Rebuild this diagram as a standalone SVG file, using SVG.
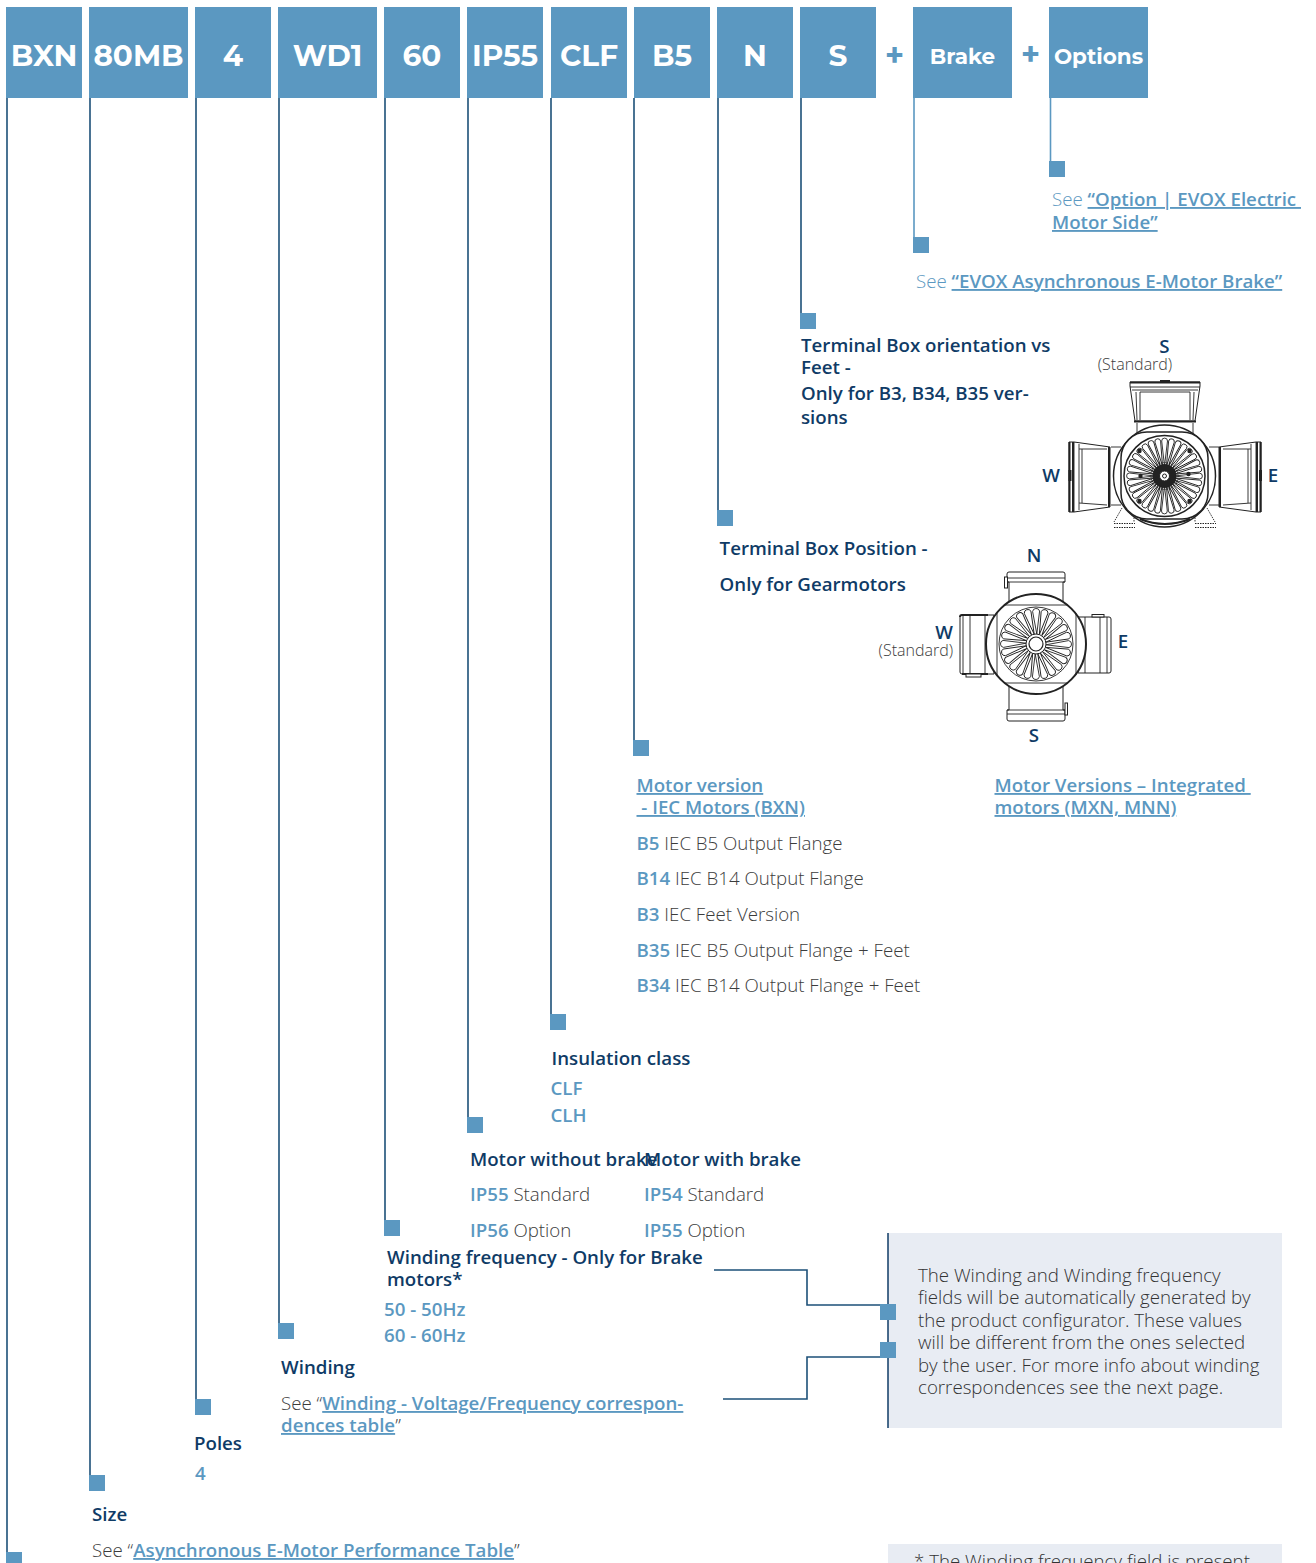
<svg xmlns="http://www.w3.org/2000/svg" xmlns:xlink="http://www.w3.org/1999/xlink" width="1316" height="1563" viewBox="0 0 1316 1563">
<style>
text{font-family:"Open Sans","Liberation Sans",sans-serif;font-size:18.7px}
.box{fill:#5b98c1}
.bt{font-family:"Montserrat","Inter","Liberation Sans",sans-serif;font-weight:700;fill:#fff;text-anchor:middle;font-size:29.500px}
.bs{font-size:21.500px}
.plus{font-family:"Inter","Liberation Sans",sans-serif;font-weight:800;fill:#5b98c1;font-size:30px;text-anchor:middle}
.sq{fill:#5b98c1}
.h{font-weight:600;fill:#0f3b66}
.o{font-weight:600;fill:#5b98c1}
.g{font-weight:300;fill:#3c3c3c}
.lg{font-weight:300;fill:#5b98c1}
.l{font-weight:600;fill:#5b98c1;text-decoration:underline}
.s{font-weight:300;fill:#3c3c3c;font-size:16px}
.n{font-weight:300;fill:#333;font-size:18.700px}
.c{fill:none;stroke:#1d5078;stroke-width:1.6}
.c2{fill:none;stroke:#5b98c1;stroke-width:1.6}
.m{fill:#fff;stroke:#222;stroke-width:1}
.mt{fill:none;stroke:#222;stroke-width:2}
.f{fill:none;stroke:#222;stroke-width:.9}
</style>
<defs>
<path id="p1" class="f" d="M.8-10L-3.400-32.500A3.600 3.600 0 0 1 3.600-33L.8-10"/>
<path id="p2" class="f" stroke-width="1.100" d="M0-10L-2.800-35A2.900 2.900 0 0 1 3-35L0-10"/>
</defs>
<g id="connectors">
<path class="c" d="M7 98V1553M90 98V1476M196 98V1400M279 98V1324M385 98V1221M468 98V1118M551 98V1015M634 98V741M718 98V511M801 98V314"/>
<path class="c2" d="M914 98V238M1050.500 98V162"/>
<path class="c" d="M714 1270H807V1305H881M723 1399H807V1357H881"/>
</g>
<g id="node-bxn"><rect class="box" x="6" y="7" width="76" height="91"/><text class="bt" x="44" y="65.500">BXN</text><rect class="sq" x="6" y="1552" width="16" height="16"/></g>
<g id="node-80mb"><rect class="box" x="89" y="7" width="99" height="91"/><text class="bt" x="138.500" y="65.500">80MB</text><rect class="sq" x="89" y="1475" width="16" height="16"/><text class="h" x="92" y="1521">Size</text><text class="g" x="92" y="1557">See “<tspan class="l">Asynchronous E-Motor Performance Table</tspan>”</text></g>
<g id="node-4"><rect class="box" x="195" y="7" width="76" height="91"/><text class="bt" x="233" y="65.500">4</text><rect class="sq" x="195" y="1399" width="16" height="16"/><text class="h" x="194" y="1450">Poles</text><text class="o" x="195" y="1480">4</text></g>
<g id="node-wd1"><rect class="box" x="278" y="7" width="99" height="91"/><text class="bt" x="327.500" y="65.500">WD1</text><rect class="sq" x="278" y="1323" width="16" height="16"/><text class="h" x="281" y="1374">Winding</text><text class="g" x="281" y="1410">See “<tspan class="l">Winding - Voltage/Frequency correspon-</tspan></text><text class="g" x="281" y="1432"><tspan class="l">dences table</tspan>”</text></g>
<g id="node-60"><rect class="box" x="384" y="7" width="76" height="91"/><text class="bt" x="422" y="65.500">60</text><rect class="sq" x="384" y="1220" width="16" height="16"/><text class="h" x="387" y="1264">Winding frequency - Only for Brake</text><text class="h" x="387" y="1286">motors*</text><text class="o" x="384" y="1316">50 - 50Hz</text><text class="o" x="384" y="1342">60 - 60Hz</text></g>
<g id="node-ip55"><rect class="box" x="467" y="7" width="76" height="91"/><text class="bt" x="505" y="65.500">IP55</text><rect class="sq" x="467" y="1117" width="16" height="16"/><text class="h" x="470" y="1166">Motor without brake</text><text class="h" x="644" y="1166">Motor with brake</text><text class="g" x="470" y="1201"><tspan class="o">IP55</tspan> Standard</text><text class="g" x="470" y="1237"><tspan class="o">IP56</tspan> Option</text><text class="g" x="644" y="1201"><tspan class="o">IP54</tspan> Standard</text><text class="g" x="644" y="1237"><tspan class="o">IP55</tspan> Option</text></g>
<g id="node-clf"><rect class="box" x="551" y="7" width="76" height="91"/><text class="bt" x="589" y="65.500">CLF</text><rect class="sq" x="550" y="1014" width="16" height="16"/><text class="h" x="551.500" y="1065">Insulation class</text><text class="o" x="550.500" y="1095">CLF</text><text class="o" x="550.500" y="1122">CLH</text></g>
<g id="node-b5"><rect class="box" x="634" y="7" width="76" height="91"/><text class="bt" x="672" y="65.500">B5</text><rect class="sq" x="633" y="740" width="16" height="16"/>
<text class="l" x="636.500" y="792">Motor version</text><text class="l" x="636.500" y="814">&#160;- IEC Motors (BXN)</text>
<text class="l" x="994.500" y="792">Motor Versions – Integrated&#160;</text><text class="l" x="994.500" y="814">motors (MXN, MNN)</text>
<text class="g" x="636.500" y="850"><tspan class="o">B5</tspan> IEC B5 Output Flange</text>
<text class="g" x="636.500" y="885"><tspan class="o">B14</tspan> IEC B14 Output Flange</text>
<text class="g" x="636.500" y="921"><tspan class="o">B3</tspan> IEC Feet Version</text>
<text class="g" x="636.500" y="957"><tspan class="o">B35</tspan> IEC B5 Output Flange + Feet</text>
<text class="g" x="636.500" y="992"><tspan class="o">B34</tspan> IEC B14 Output Flange + Feet</text></g>
<g id="node-n"><rect class="box" x="717" y="7" width="76" height="91"/><text class="bt" x="755" y="65.500">N</text><rect class="sq" x="717" y="510" width="16" height="16"/><text class="h" x="719.600" y="555">Terminal Box Position -</text><text class="h" x="719.600" y="591">Only for Gearmotors</text>
<text class="h" x="1034" y="562" text-anchor="middle">N</text><text class="h" x="944" y="639" text-anchor="middle">W</text><text class="s" x="953" y="656" text-anchor="end">(Standard)</text><text class="h" x="1123" y="648" text-anchor="middle">E</text><text class="h" x="1034" y="742" text-anchor="middle">S</text>
<g id="motor-n">
<path class="m" d="M1007 574q0-2 2-2h54q2 0 2 2v8h-2v20h-54v-20h-2z"/><path class="f" d="M1007 578h58M1007 582h58"/><rect x="1004.500" y="577" width="3" height="11" class="m"/>
<path class="m" d="M1009 686h54v24h2v9q0 2-2 2h-54q-2 0-2-2v-9h2z"/><path class="f" d="M1007 710h58M1007 714h58"/><rect x="1065" y="703" width="2.500" height="12" class="m"/>
<path class="m" d="M994 615h-32q-2 0-2 2v55q0 2 2 2h32z"/><path class="f" d="M963 615v59M970 615v59M985 615v59"/><path d="M960 617q0-2 2-2h26M962 674h26" class="mt" stroke-width="1.500"/><rect x="966" y="674" width="15" height="3" class="m"/>
<path class="m" d="M1078 617h31q2 0 2 2v52q0 2-2 2h-31z"/><path class="f" d="M1085 617v56M1100 617v56M1107 617v56"/><rect x="1092" y="614.500" width="12" height="2.500" class="m"/>
<circle cx="1036" cy="644" r="50" fill="#fff" stroke="#222" stroke-width="2"/>
<path class="f" d="M997 613V675M1076 613V675M1004 605H1068M1004 683H1068"/>
<circle cx="1036" cy="644" r="37" class="f"/>
<g transform="translate(1036 644)">
<use xlink:href="#p1"/><use xlink:href="#p1" transform="rotate(15)"/><use xlink:href="#p1" transform="rotate(30)"/><use xlink:href="#p1" transform="rotate(45)"/><use xlink:href="#p1" transform="rotate(60)"/><use xlink:href="#p1" transform="rotate(75)"/><use xlink:href="#p1" transform="rotate(90)"/><use xlink:href="#p1" transform="rotate(105)"/><use xlink:href="#p1" transform="rotate(120)"/><use xlink:href="#p1" transform="rotate(135)"/><use xlink:href="#p1" transform="rotate(150)"/><use xlink:href="#p1" transform="rotate(165)"/><use xlink:href="#p1" transform="rotate(180)"/><use xlink:href="#p1" transform="rotate(195)"/><use xlink:href="#p1" transform="rotate(210)"/><use xlink:href="#p1" transform="rotate(225)"/><use xlink:href="#p1" transform="rotate(240)"/><use xlink:href="#p1" transform="rotate(255)"/><use xlink:href="#p1" transform="rotate(270)"/><use xlink:href="#p1" transform="rotate(285)"/><use xlink:href="#p1" transform="rotate(300)"/><use xlink:href="#p1" transform="rotate(315)"/><use xlink:href="#p1" transform="rotate(330)"/><use xlink:href="#p1" transform="rotate(345)"/>
</g>
<circle cx="1036" cy="644" r="10" fill="#fff" stroke="#222" stroke-width="1"/><circle cx="1036" cy="644" r="7" fill="#fff" stroke="#222" stroke-width="1.200"/>
</g></g>
<g id="node-s"><rect class="box" x="800" y="7" width="76" height="91"/><text class="bt" x="838" y="65.500">S</text><rect class="sq" x="800" y="313" width="16" height="16"/>
<text class="h" x="801" y="352">Terminal Box orientation vs</text><text class="h" x="801" y="374">Feet -</text><text class="h" x="801" y="400">Only for B3, B34, B35 ver-</text><text class="h" x="801" y="424">sions</text>
<text class="h" x="1164.500" y="353" text-anchor="middle">S</text><text class="s" x="1135" y="370" text-anchor="middle">(Standard)</text><text class="h" x="1051" y="482" text-anchor="middle">W</text><text class="h" x="1273" y="482" text-anchor="middle">E</text>
<g id="motor-s">
<path class="m" d="M1130 382h70v4l-5 35h-60l-5-35z"/><path class="f" d="M1130 387h70M1132 390h66M1136 392l1 28M1140 392v28M1194 392l-1 28M1190 392v28M1140 392h50M1137 423v10M1193 423v10"/><path class="mt" d="M1134 421.500h62M1130 382.500h70M1160 381h10"/>
<path class="m" d="M1110 447l-36-5h-5v70h5l36-5z"/><path class="f" d="M1074 442v70M1079 444v66M1079 449l28 0M1079 503l28 2M1082 449v54M1111 447h10M1111 505h10"/><path class="mt" d="M1069.500 442v70M1073 442v70M1109 447v60"/><rect x="1068.500" y="470" width="3" height="11" fill="#222"/>
<path class="m" d="M1219 447l37-5h5v70h-5l-37-5z"/><path class="f" d="M1256 442v70M1251 444v66M1251 449l-28 0M1251 503l-28 2M1248 449v54M1219 447h-10M1219 505h-10"/><path class="mt" d="M1260.500 442v70M1257 442v70M1220 447v60"/><rect x="1259" y="470" width="3" height="11" fill="#222"/>
<circle cx="1164.500" cy="476" r="51" fill="#fff" stroke="#222" stroke-width="1.500"/>
<rect x="1121" y="432" width="87" height="87" rx="26" fill="#fff" stroke="#222" stroke-width="1.500"/>
<circle cx="1164.500" cy="476" r="40.500" fill="#fff" stroke="#222" stroke-width="1.500"/>
<g transform="translate(1164.500 476)">
<use xlink:href="#p2"/><use xlink:href="#p2" transform="rotate(11.250)"/><use xlink:href="#p2" transform="rotate(22.500)"/><use xlink:href="#p2" transform="rotate(33.750)"/><use xlink:href="#p2" transform="rotate(45)"/><use xlink:href="#p2" transform="rotate(56.250)"/><use xlink:href="#p2" transform="rotate(67.500)"/><use xlink:href="#p2" transform="rotate(78.750)"/><use xlink:href="#p2" transform="rotate(90)"/><use xlink:href="#p2" transform="rotate(101.250)"/><use xlink:href="#p2" transform="rotate(112.500)"/><use xlink:href="#p2" transform="rotate(123.750)"/><use xlink:href="#p2" transform="rotate(135)"/><use xlink:href="#p2" transform="rotate(146.250)"/><use xlink:href="#p2" transform="rotate(157.500)"/><use xlink:href="#p2" transform="rotate(168.750)"/><use xlink:href="#p2" transform="rotate(180)"/><use xlink:href="#p2" transform="rotate(191.250)"/><use xlink:href="#p2" transform="rotate(202.500)"/><use xlink:href="#p2" transform="rotate(213.750)"/><use xlink:href="#p2" transform="rotate(225)"/><use xlink:href="#p2" transform="rotate(236.250)"/><use xlink:href="#p2" transform="rotate(247.500)"/><use xlink:href="#p2" transform="rotate(258.750)"/><use xlink:href="#p2" transform="rotate(270)"/><use xlink:href="#p2" transform="rotate(281.250)"/><use xlink:href="#p2" transform="rotate(292.500)"/><use xlink:href="#p2" transform="rotate(303.750)"/><use xlink:href="#p2" transform="rotate(315)"/><use xlink:href="#p2" transform="rotate(326.250)"/><use xlink:href="#p2" transform="rotate(337.500)"/><use xlink:href="#p2" transform="rotate(348.750)"/>
<circle cx="-25" cy="-25" r="2.200" fill="#222"/><circle cx="25" cy="-25" r="2.200" fill="#222"/><circle cx="-25" cy="25" r="2.200" fill="#222"/><circle cx="25" cy="25" r="2.200" fill="#222"/><circle cx="-24" cy="0" r="2.200" fill="#222"/><circle cx="24" cy="-2" r="2.200" fill="#222"/>
</g>
<circle cx="1164.500" cy="476" r="12" fill="#222"/><circle cx="1164.500" cy="476" r="13.500" fill="none" stroke="#222" stroke-dasharray="1 1"/><circle cx="1164.500" cy="476" r="5" fill="#fff" stroke="#222"/><circle cx="1164.500" cy="476" r="2" fill="#fff" stroke="#222"/>
<path d="M1122 508l-8 14M1207 508l8 14M1134 515v7M1195 515v7" class="f" stroke-dasharray="1.500 1"/>
<path d="M1114 527.500h21M1114 523.500h21M1195 527.500h21M1195 523.500h21" stroke="#222" fill="none" stroke-dasharray="1.500 1"/>
<path d="M1140 519q25 10 50 0" class="mt"/>
</g></g>
<g id="plus-1"><text class="plus" x="894.500" y="63.500">+</text></g>
<g id="node-brake"><rect class="box" x="913" y="7" width="99" height="91"/><text class="bt bs" x="962.500" y="64">Brake</text><rect class="sq" x="913" y="237" width="16" height="16"/><text class="lg" x="916" y="288">See <tspan class="l">“EVOX Asynchronous E-Motor Brake”</tspan></text></g>
<g id="plus-2"><text class="plus" x="1030.500" y="63">+</text></g>
<g id="node-options"><rect class="box" x="1049" y="7" width="99" height="91"/><text class="bt bs" x="1098.500" y="64">Options</text><rect class="sq" x="1049" y="161" width="16" height="16"/><text class="lg" x="1052" y="206">See <tspan class="l">“Option | EVOX Electric&#160;</tspan></text><text class="l" x="1052" y="229">Motor Side”</text></g>
<g id="note-1"><rect x="888" y="1233" width="394" height="195" fill="#e8ecf3"/><path d="M888 1233V1428" stroke="#0f3b66" stroke-width="1.500"/>
<rect class="sq" x="880" y="1304" width="16" height="16"/><rect class="sq" x="880" y="1342" width="16" height="16"/>
<text class="n" x="918" y="1282">The Winding and Winding frequency</text><text class="n" x="918" y="1304">fields will be automatically generated by</text><text class="n" x="918" y="1327">the product configurator. These values</text><text class="n" x="918" y="1349">will be different from the ones selected</text><text class="n" x="918" y="1372">by the user. For more info about winding</text><text class="n" x="918" y="1394">correspondences see the next page.</text></g>
<g id="note-2"><rect x="888" y="1544" width="394" height="19" fill="#e8ecf3"/><text class="n" x="914" y="1568">* The Winding frequency field is present</text></g>
</svg>
